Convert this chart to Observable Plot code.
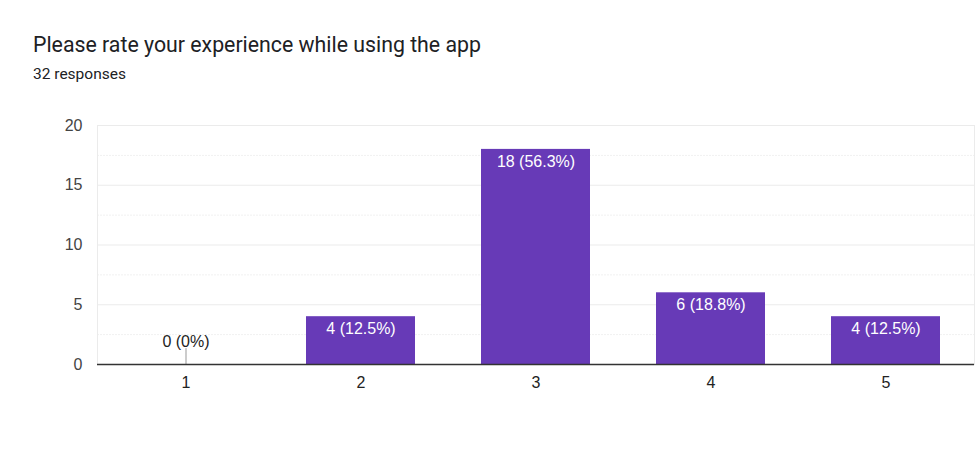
<!DOCTYPE html>
<html>
<head>
<meta charset="utf-8">
<script src="https://cdn.jsdelivr.net/npm/d3@7"></script>
<script src="https://cdn.jsdelivr.net/npm/@observablehq/plot@0.6"></script>
<style>
  html, body { margin: 0; padding: 0; background: #fff; }
  #wrap { position: relative; width: 975px; height: 464px; overflow: hidden; }
  #title { position: absolute; left: 33px; top: 32px; font-family: Roboto, "Liberation Sans", sans-serif; font-size: 21.3px; color: #202124; white-space: nowrap; }
  #subtitle { position: absolute; left: 33px; top: 65px; font-family: Roboto, "Liberation Sans", sans-serif; font-size: 15.5px; color: #202124; white-space: nowrap; }
  #chart { position: absolute; left: 0; top: 0; }
</style>
</head>
<body>
<div id="wrap">
  <div id="chart"></div>
  <div id="title">Please rate your experience while using the app</div>
  <div id="subtitle">32 responses</div>
</div>
<script>
const ratings = ["1", "2", "3", "4", "5"];
const counts = [0, 4, 18, 6, 4];
const labels = ["0 (0%)", "4 (12.5%)", "18 (56.3%)", "6 (18.8%)", "4 (12.5%)"];
const majorTicks = [0, 5, 10, 15, 20];
const minorTicks = [2.5, 7.5, 12.5, 17.5];

const data = ratings.map((r, i) => ({rating: r, count: counts[i], label: labels[i]}));
const zeros = data.filter(d => d.count === 0);
const nonzero = data.filter(d => d.count > 0);

const font = "'Liberation Sans', Arial, sans-serif";

const plot = Plot.plot({
  width: 975,
  height: 464,
  marginTop: 125,
  marginBottom: 100,
  marginLeft: 97,
  marginRight: 1,
  style: {fontFamily: font, fontSize: "16px", background: "transparent"},
  x: {domain: ratings, padding: 0.38, paddingOuter: 0.19, align: 0.5, label: null, tickSize: 0, tickPadding: 12},
  y: {domain: [0, 20], ticks: majorTicks, label: null, tickSize: 0, tickPadding: 15},
  marks: [
    Plot.ruleY(minorTicks, {stroke: "#f1f1f1", strokeWidth: 1, strokeDasharray: "2,1"}),
    Plot.ruleY(majorTicks, {stroke: "#ebebeb", strokeWidth: 1}),
    Plot.frame({stroke: "#ebebeb"}),
    Plot.barY(nonzero, {x: "rating", y: "count", fill: "#673ab7"}),
    Plot.text(nonzero, {x: "rating", y: "count", text: "label", fill: "#ffffff", lineAnchor: "top", dy: 6, fontSize: 16}),
    Plot.vector(zeros, {x: "rating", y: "count", length: 16, anchor: "start", stroke: "#999", strokeWidth: 1,
      shape: {draw(ctx, l) { ctx.moveTo(0, 0); ctx.lineTo(0, -l); }}}),
    Plot.text(zeros, {x: "rating", y: "count", text: "label", fill: "#222", lineAnchor: "bottom", dy: -18, fontSize: 16}),
    Plot.ruleY([0], {stroke: "#333", strokeWidth: 1.3}),
    Plot.axisX({tickSize: 0, tickPadding: 12, fill: "#222", fontSize: 16}),
    Plot.axisY({ticks: majorTicks, tickSize: 0, tickPadding: 15, fill: "#444", fontSize: 16})
  ]
});
document.getElementById("chart").appendChild(plot);
</script>
</body>
</html>
